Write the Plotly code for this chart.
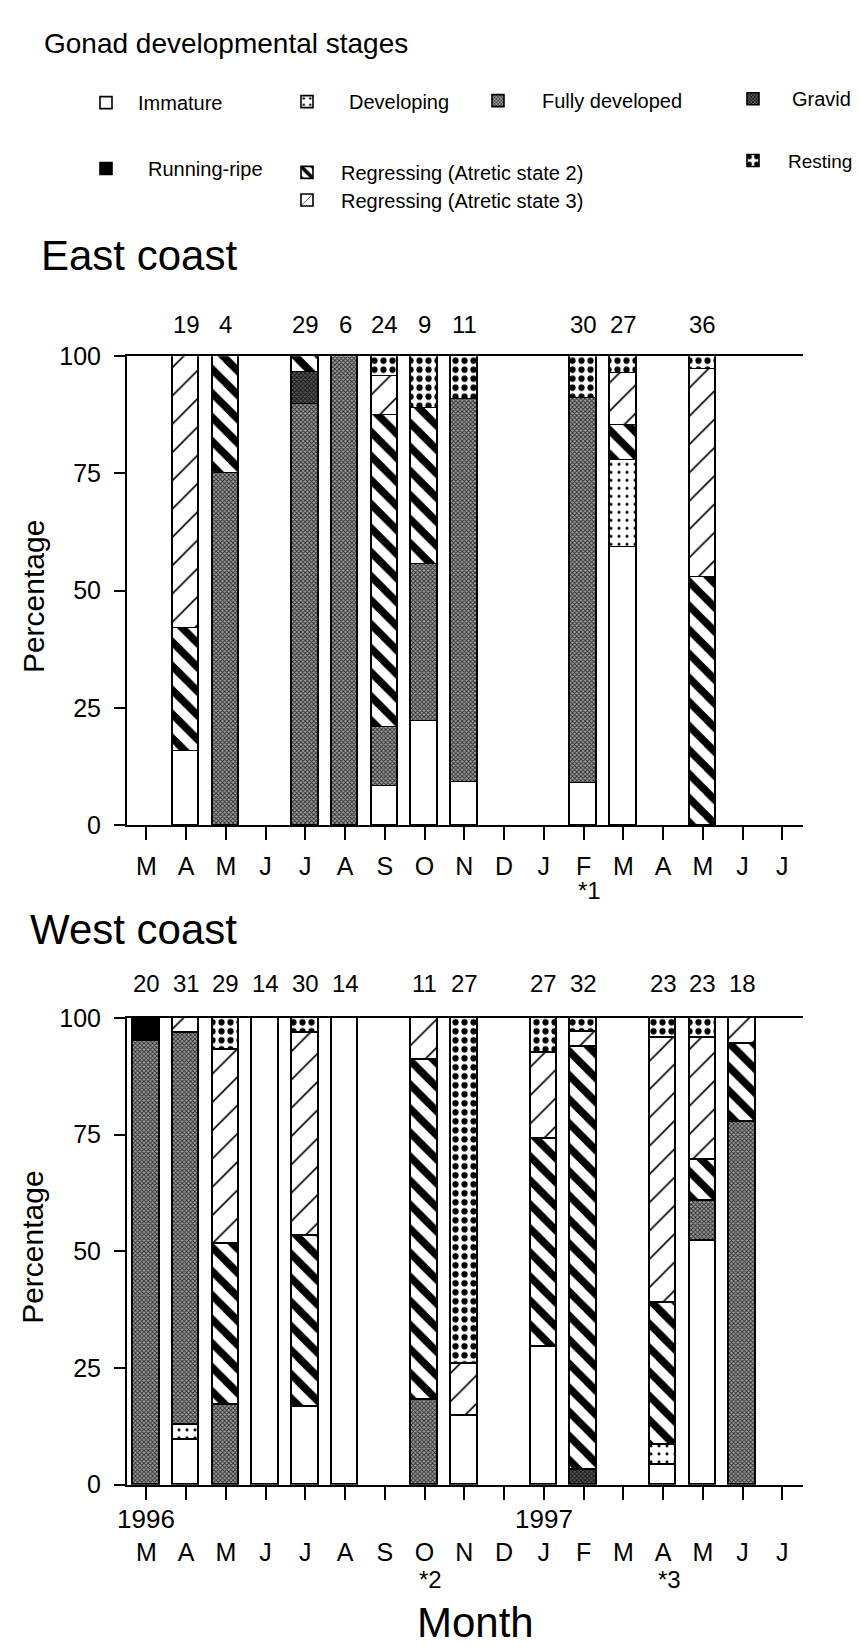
import plotly.graph_objects as go

W, H = 860, 1650
FONT = "Liberation Sans, Arial, Helvetica, sans-serif"

# ---------------- data ----------------
months = ["M", "A", "M", "J", "J", "A", "S", "O", "N", "D", "J", "F", "M", "A", "M", "J", "J"]
month_idx = list(range(len(months)))
stages = ["Immature", "Developing", "Fully developed", "Gravid", "Running-ripe",
          "Regressing (Atretic state 2)", "Regressing (Atretic state 3)", "Resting"]
N = None

# East coast (percentages, bottom -> top)
east_n = [N, 19, 4, N, 29, 6, 24, 9, 11, N, N, 30, 27, N, 36, N, N]
east_immature = [N, 15.8, N, N, N, N, 8.3, 22.2, 9.1, N, N, 9.0, 59.3, N, N, N, N]
east_developing = [N, N, N, N, N, N, N, N, N, N, N, N, 18.5, N, N, N, N]
east_fully = [N, N, 75.0, N, 89.7, 100.0, 12.5, 33.4, 81.8, N, N, 82.0, N, N, N, N, N]
east_gravid = [N, N, N, N, 6.9, N, N, N, N, N, N, N, N, N, N, N, N]
east_running = [N] * 17
east_regress2 = [N, 26.3, 25.0, N, 3.4, N, 66.7, 33.3, N, N, N, N, 7.4, N, 52.8, N, N]
east_regress3 = [N, 57.9, N, N, N, N, 8.3, N, N, N, N, N, 11.1, N, 44.4, N, N]
east_resting = [N, N, N, N, N, N, 4.2, 11.1, 9.1, N, N, 9.0, 3.7, N, 2.8, N, N]

# West coast
west_n = [20, 31, 29, 14, 30, 14, N, 11, 27, N, 27, 32, N, 23, 23, 18, N]
west_immature = [N, 9.7, N, 100.0, 16.7, 100.0, N, N, 14.8, N, 29.6, N, N, 4.3, 52.2, N, N]
west_developing = [N, 3.2, N, N, N, N, N, N, N, N, N, N, N, 4.3, N, N, N]
west_fully = [95.0, 83.9, 17.2, N, N, N, N, 18.2, N, N, N, N, N, N, 8.7, 77.8, N]
west_gravid = [N, N, N, N, N, N, N, N, N, N, N, 3.1, N, N, N, N, N]
west_running = [5.0, N, N, N, N, N, N, N, N, N, N, N, N, N, N, N, N]
west_regress2 = [N, N, 34.5, N, 36.7, N, N, 72.7, N, N, 44.4, 90.7, N, 30.4, 8.7, 16.7, N]
west_regress3 = [N, 3.2, 41.4, N, 43.3, N, N, 9.1, 11.1, N, 18.5, 3.1, N, 56.7, 26.1, 5.5, N]
west_resting = [N, N, 6.9, N, 3.3, N, N, N, 74.1, N, 7.5, 3.1, N, 4.3, 4.3, N, N]

years = ["1996", "1997"]
year_month_idx = [0, 10]
notes_east = ["*1"]
notes_east_idx = [11]
notes_west = ["*2", "*3"]
notes_west_idx = [7, 13]

east_series = [east_immature, east_developing, east_fully, east_gravid, east_running,
               east_regress2, east_regress3, east_resting]
west_series = [west_immature, west_developing, west_fully, west_gravid, west_running,
               west_regress2, west_regress3, west_resting]

# ---------------- styles ----------------
patterns = [
    dict(shape="", fgcolor="white", bgcolor="white"),
    dict(shape=".", fgcolor="black", bgcolor="white", size=8, solidity=0.12, fgopacity=1),
    dict(shape="x", fgcolor="#2a2a2a", bgcolor="#a2a2a2", size=3, solidity=0.5, fgopacity=1),
    dict(shape="x", fgcolor="#111111", bgcolor="#5a5a5a", size=3, solidity=0.5, fgopacity=1),
    dict(shape="", fgcolor="black", bgcolor="black"),
    dict(shape="\\", fgcolor="black", bgcolor="white", size=17, solidity=0.45, fgopacity=1),
    dict(shape="/", fgcolor="black", bgcolor="white", size=20, solidity=0.08, fgopacity=1),
    dict(shape=".", fgcolor="black", bgcolor="white", size=9, solidity=0.38, fgopacity=1),
]
fills = ["white", "white", "#7c7c7c", "#3c3c3c", "black", "white", "white", "white"]

# legend placement: (symbol centre x px, text start x px, centre y px, font size)
legend_pos = [
    (100, 132, 82, 20), (301, 343, 81, 20), (492, 536, 80, 20), (747, 786, 78, 20),
    (100, 142, 149, 20), (301, 335, 153, 20), (301, 335, 181, 20), (747, 782, 141, 19),
]


def pxx(p):
    return p / W


def pxy(p):
    return 1 - p / H


fig = go.Figure()

for k, name in enumerate(stages):
    lid = "legend" if k == 0 else "legend%d" % (k + 1)
    for series, xa, ya, show in [(east_series, "x", "y", True), (west_series, "x2", "y2", False)]:
        fig.add_trace(go.Bar(
            x=month_idx, y=series[k], name=name, xaxis=xa, yaxis=ya,
            width=0.67, legend=lid, showlegend=show, legendgroup=name,
            marker=dict(color=fills[k], pattern=patterns[k],
                        line=dict(color="black", width=1.6)),
            hoverinfo="skip",
        ))

# axes
x_dom = [pxx(119), pxx(795)]
x_rng = [-0.486, 16.52]
axis_common = dict(showline=True, linecolor="black", linewidth=2, showgrid=False,
                   zeroline=False, ticks="outside", tickcolor="black", tickwidth=2,
                   tickfont=dict(family=FONT, size=25, color="black"))

layout_axes = {}
for suf, ydom, stand in [("", [pxy(817), pxy(340)], 5), ("2", [pxy(1488), pxy(1013)], 31)]:
    layout_axes["xaxis" + suf] = dict(axis_common, domain=x_dom, range=x_rng,
                                      tickvals=month_idx, ticktext=months, ticklen=13,
                                      mirror=True, ticklabelstandoff=stand,
                                      anchor="y" + suf, fixedrange=True)
    layout_axes["yaxis" + suf] = dict(axis_common, domain=ydom, range=[0, 100],
                                      tickvals=[0, 25, 50, 75, 100], ticklen=11,
                                      ticklabelstandoff=8, anchor="x" + suf, fixedrange=True)

annotations = []


def txt(text, x, y, size, xref="paper", yref="paper", xanchor="center", yanchor="middle",
        angle=0, xshift=0, yshift=0):
    annotations.append(dict(text=text, x=x, y=y, xref=xref, yref=yref, xanchor=xanchor,
                            yanchor=yanchor, showarrow=False, textangle=angle,
                            xshift=xshift, yshift=yshift,
                            font=dict(family=FONT, size=size, color="black")))


txt("Gonad developmental stages", pxx(34), pxy(22), 28, xanchor="left")
txt("East coast", pxx(31), pxy(238), 42, xanchor="left")
txt("West coast", pxx(20), pxy(923), 42, xanchor="left")
txt("Percentage", pxx(25), pxy(585), 30, angle=-90)
txt("Percentage", pxx(25), pxy(1247), 30, angle=-90)
txt("Month", pxx(467), pxy(1628), 42)

for i, n in zip(month_idx, east_n):
    if n is not None:
        txt(str(n), i, 100, 24, xref="x", yref="y", yshift=32)
for i, n in zip(month_idx, west_n):
    if n is not None:
        txt(str(n), i, 100, 24, xref="x2", yref="y2", yshift=34)
for lab, i in zip(years, year_month_idx):
    txt(lab, i, pxy(1523), 26, xref="x2")
for lab, i in zip(notes_east, notes_east_idx):
    txt(lab, i, pxy(884), 24, xref="x", xshift=6)
for lab, i in zip(notes_west, notes_west_idx):
    txt(lab, i, pxy(1584), 24, xref="x2", xshift=6)

legends = {}
for k in range(len(stages)):
    cx, tx, cy, fs = legend_pos[k]
    gap = tx - cx
    itemwidth = max(30, 2 * gap - 10)
    text_gap = itemwidth + 10
    lid = "legend" if k == 0 else "legend%d" % (k + 1)
    legends[lid] = dict(x=pxx(cx - text_gap / 2 - 2), y=pxy(cy), xanchor="left", yanchor="middle",
                        bgcolor="rgba(0,0,0,0)", borderwidth=0, itemwidth=itemwidth,
                        font=dict(family=FONT, size=fs, color="black"),
                        itemclick=False, itemdoubleclick=False)

fig.update_layout(
    width=W, height=H, autosize=False,
    margin=dict(l=0, r=0, t=0, b=0),
    paper_bgcolor="white", plot_bgcolor="white",
    barmode="stack", bargap=0,
    annotations=annotations,
    font=dict(family=FONT, color="black"),
    **layout_axes, **legends,
)

fig.write_html("out.html", config={"displayModeBar": False})
